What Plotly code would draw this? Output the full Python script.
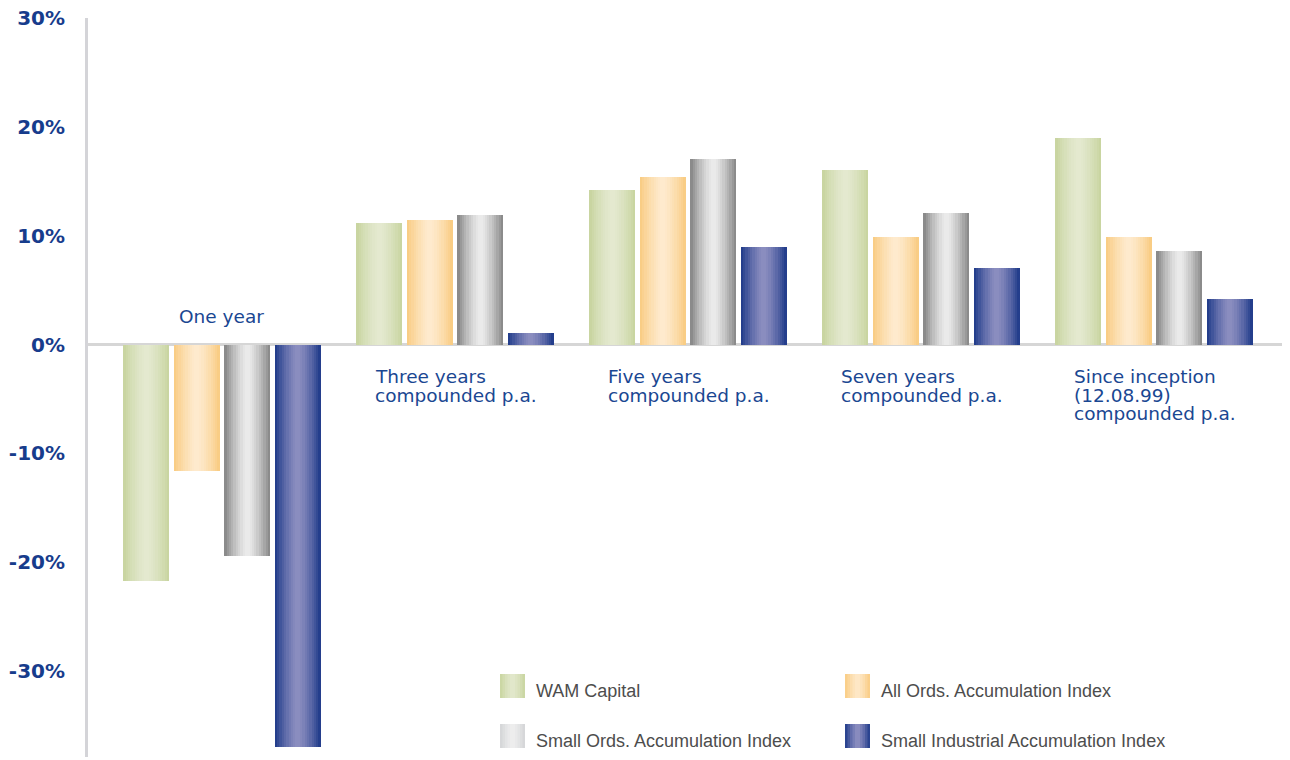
import plotly.graph_objects as go

# ---------------- data ----------------
category_lines = [
    ["One year"],
    ["Three years", "compounded p.a."],
    ["Five years", "compounded p.a."],
    ["Seven years", "compounded p.a."],
    ["Since inception", "(12.08.99)", "compounded p.a."],
]
series_names = [
    "WAM Capital",
    "All Ords. Accumulation Index",
    "Small Ords. Accumulation Index",
    "Small Industrial Accumulation Index",
]
wam_capital = [-21.7, 11.2, 14.2, 16.0, 19.0]
all_ords = [-11.6, 11.4, 15.4, 9.9, 9.9]
small_ords = [-19.4, 11.9, 17.0, 12.1, 8.6]
small_industrial = [-37.0, 1.1, 9.0, 7.0, 4.2]
tick_values = [-30, -20, -10, 0, 10, 20, 30]
tick_labels = ["-30%", "-20%", "-10%", "0%", "10%", "20%", "30%"]

series_values = [wam_capital, all_ords, small_ords, small_industrial]

# ---------------- styling ----------------
PAGE_OFF = 8                      # default body margin of the html page
W, H = 1290 - PAGE_OFF, 760 - PAGE_OFF
ML, MR, MT, MB = 88 - PAGE_OFF, 0, 18 - PAGE_OFF, 3
PW, PH = W - ML - MR, H - MT - MB
PX_PER_CAT = 233.0
X0 = -0.575
YR = [-37.9, 30]

edge_cols = [(199, 212, 158), (249, 203, 128), (132, 132, 132), (28, 56, 136)]
mid_cols = [(228, 233, 208), (254, 234, 206), (236, 236, 236), (140, 142, 192)]
leg_edge = [(199, 212, 158), (249, 203, 128), (210, 211, 214), (28, 56, 136)]
leg_mid = [(226, 232, 204), (254, 232, 200), (238, 238, 238), (140, 142, 192)]

def mix(a, b, f):
    return "rgb(%d,%d,%d)" % tuple(int(round(a[i] + (b[i] - a[i]) * f)) for i in range(3))

N_STRIPS = 20
bar_w_px = 46.0
pitch_px = 50.5
bar_w = bar_w_px / PX_PER_CAT
strip_w = bar_w / N_STRIPS
overlap = 1.2 / PX_PER_CAT

fig = go.Figure()
x_idx = list(range(len(category_lines)))

for s, vals in enumerate(series_values):
    center_off = (s - 1.5) * pitch_px / PX_PER_CAT
    left = center_off - bar_w / 2
    for k in range(N_STRIPS):
        u = (k + 0.5) / N_STRIPS
        f = 1 - abs(2 * u - 1) ** 1.4
        col = mix(edge_cols[s], mid_cols[s], f)
        w = strip_w + (overlap if k < N_STRIPS - 1 else 0)
        fig.add_trace(go.Bar(
            x=x_idx, y=vals, offset=left + k * strip_w, width=w,
            marker=dict(color=col, line=dict(width=0)),
            showlegend=False, hoverinfo="skip", name=series_names[s],
        ))

# ---------------- category labels ----------------
annotations = []
lab_font = dict(family="DejaVu Sans, Verdana, sans-serif", size=18.5, color="#1a4792")
for i, lines in enumerate(category_lines):
    group_min = min(v[i] for v in series_values)
    if group_min < 0:
        annotations.append(dict(x=i, y=0, xref="x", yref="y", text=lines[0],
                                showarrow=False, xanchor="center", yanchor="middle",
                                yshift=28, font=lab_font))
    else:
        for j, ln in enumerate(lines):
            annotations.append(dict(x=i, y=0, xref="x", yref="y", text=ln,
                                    showarrow=False, xanchor="left", yanchor="middle",
                                    xshift=-82, yshift=-32 - 18.5 * j, font=lab_font))

# ---------------- legend (custom 2x2) ----------------
def xp(px):
    return (px - PAGE_OFF - ML) / PW

def yp(py):
    return (H - MB - (py - PAGE_OFF)) / PH

shapes = []
leg_pos = [(500, 674), (845, 674), (500, 724), (845, 724)]
sw_w, sw_h = 25, 24
NS = 10
for s, (lx, ly) in enumerate(leg_pos):
    for k in range(NS):
        u = (k + 0.5) / NS
        f = 1 - abs(2 * u - 1) ** 1.4
        col = mix(leg_edge[s], leg_mid[s], f)
        x0 = lx + k * sw_w / NS
        x1 = lx + (k + 1) * sw_w / NS + (0.8 if k < NS - 1 else 0)
        shapes.append(dict(type="rect", xref="paper", yref="paper",
                           x0=xp(x0), x1=xp(x1), y0=yp(ly + sw_h), y1=yp(ly),
                           fillcolor=col, line=dict(width=0), layer="above"))
    annotations.append(dict(x=xp(lx + 34), y=yp(ly + 17), xref="paper", yref="paper",
                            text=series_names[s], showarrow=False,
                            xanchor="left", yanchor="middle",
                            font=dict(family="Liberation Sans, Arial, sans-serif",
                                      size=18, color="#4d4d4d")))

fig.update_layout(
    width=W, height=H,
    margin=dict(l=ML, r=MR, t=MT, b=MB, autoexpand=False),
    paper_bgcolor="white", plot_bgcolor="white",
    barmode="overlay", bargap=0,
    showlegend=False,
    xaxis=dict(range=[X0, X0 + PW / PX_PER_CAT], visible=False, showgrid=False,
               zeroline=False, fixedrange=True, automargin=False),
    yaxis=dict(range=YR, tickvals=tick_values, ticktext=tick_labels,
               showgrid=False, zeroline=True, zerolinecolor="#d6d6d6", zerolinewidth=3,
               showline=True, linecolor="#d4d4d8", linewidth=3,
               ticks="", ticklabelstandoff=16, automargin=False,
               ticklabeloverflow="allow",
               tickfont=dict(family="DejaVu Sans, Verdana, sans-serif", size=20,
                             color="#173c8c", weight="bold")),
    annotations=annotations,
    shapes=shapes,
)

fig.write_html("out.html")
